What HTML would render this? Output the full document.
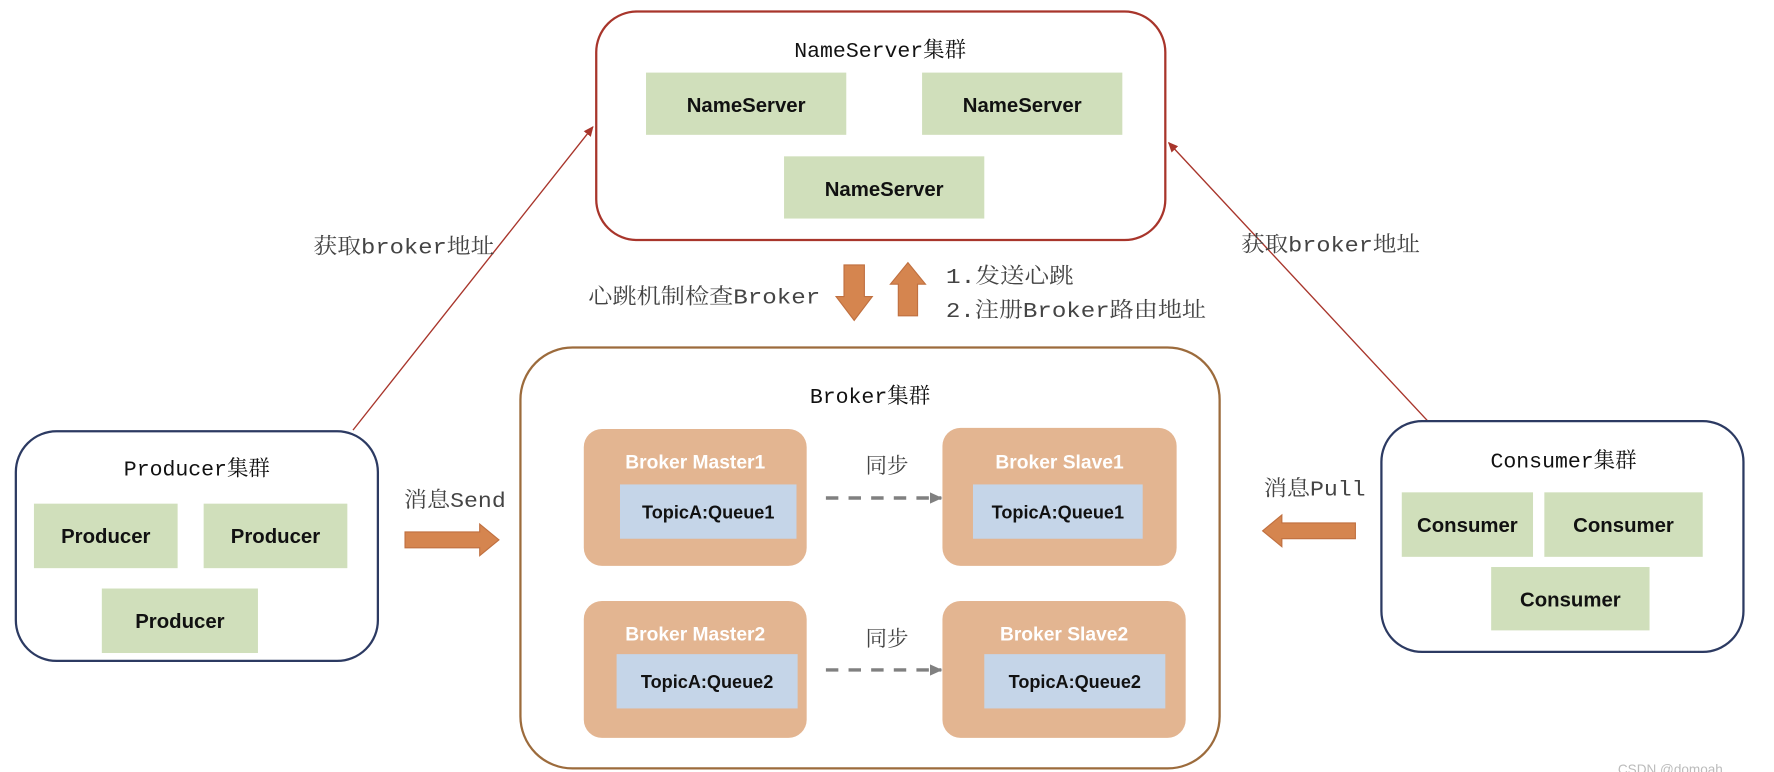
<!DOCTYPE html>
<html><head><meta charset="utf-8"><style>
html,body{margin:0;padding:0;background:#fff;width:1774px;height:772px;overflow:hidden}
svg{display:block}
.t{font-family:"Liberation Mono","Noto Serif CJK SC",monospace;fill:#111}
.l{font-family:"Liberation Mono","Noto Serif CJK SC",monospace;fill:#444}
.b{font-family:"Liberation Sans","Noto Sans CJK SC",sans-serif;font-weight:bold;fill:#111}
.w{font-family:"Liberation Sans","Noto Sans CJK SC",sans-serif;font-weight:bold;fill:#fff}
</style></head><body>
<svg width="1774" height="772" viewBox="0 0 1568 682" xmlns="http://www.w3.org/2000/svg">
<defs>
<marker id="ar" markerWidth="10" markerHeight="10" refX="8" refY="5" orient="auto" markerUnits="userSpaceOnUse"><path d="M0,1 L9,5 L0,9 z" fill="#a8352b"/></marker>
<marker id="ag" markerWidth="12" markerHeight="12" refX="10" refY="6" orient="auto" markerUnits="userSpaceOnUse"><path d="M0,1 L11,6 L0,11 z" fill="#808080"/></marker>
</defs>
<!-- NameServer cluster -->
<rect x="527" y="10" width="503" height="202" rx="36" fill="#fff" stroke="#a8352b" stroke-width="2"/>
<text class="t" x="778" y="50" font-size="19" text-anchor="middle">NameServer集群</text>
<rect x="571" y="64" width="177" height="55" fill="#d0dfbb"/>
<text class="b" x="659.5" y="99" font-size="18" text-anchor="middle">NameServer</text>
<rect x="815" y="64" width="177" height="55" fill="#d0dfbb"/>
<text class="b" x="903.5" y="99" font-size="18" text-anchor="middle">NameServer</text>
<rect x="693" y="138" width="177" height="55" fill="#d0dfbb"/>
<text class="b" x="781.5" y="173" font-size="18" text-anchor="middle">NameServer</text>
<!-- red connectors -->
<line x1="312" y1="380" x2="524" y2="112" stroke="#a8352b" stroke-width="1.2" marker-end="url(#ar)"/>
<line x1="1262" y1="372" x2="1033" y2="126" stroke="#a8352b" stroke-width="1.2" marker-end="url(#ar)"/>
<text class="l" x="277" y="224" font-size="19" textLength="160" lengthAdjust="spacingAndGlyphs">获取broker地址</text>
<text class="l" x="1097" y="222" font-size="19" textLength="158" lengthAdjust="spacingAndGlyphs">获取broker地址</text>
<!-- heartbeat arrows -->
<path d="M746,234 H764 V262 H771 L755,283 L739,262 H746 Z" fill="#d5854f" stroke="#c07040" stroke-width="1"/>
<path d="M794,279 H811 V251 H818 L802.5,232 L787,251 H794 Z" fill="#d5854f" stroke="#c07040" stroke-width="1"/>
<text class="l" x="520" y="268" font-size="19" textLength="205" lengthAdjust="spacingAndGlyphs">心跳机制检查Broker</text>
<text class="l" x="836" y="250" font-size="19" textLength="113" lengthAdjust="spacingAndGlyphs">1.发送心跳</text>
<text class="l" x="836" y="280" font-size="19" textLength="230" lengthAdjust="spacingAndGlyphs">2.注册Broker路由地址</text>
<!-- Broker cluster -->
<rect x="460" y="307" width="618" height="372" rx="46" fill="#fff" stroke="#9c6b3c" stroke-width="2"/>
<text class="t" x="769" y="356" font-size="19" text-anchor="middle">Broker集群</text>
<rect x="516" y="379" width="197" height="121" rx="16" fill="#e3b591"/>
<text class="w" x="614.5" y="414" font-size="17" text-anchor="middle">Broker Master1</text>
<rect x="548" y="428" width="156" height="48" fill="#c5d5e8"/>
<text class="b" x="626" y="458" font-size="16" text-anchor="middle">TopicA:Queue1</text>
<rect x="833" y="378" width="207" height="122" rx="16" fill="#e3b591"/>
<text class="w" x="936.5" y="414" font-size="17" text-anchor="middle">Broker Slave1</text>
<rect x="860" y="428" width="150" height="48" fill="#c5d5e8"/>
<text class="b" x="935" y="458" font-size="16" text-anchor="middle">TopicA:Queue1</text>
<rect x="516" y="531" width="197" height="121" rx="16" fill="#e3b591"/>
<text class="w" x="614.5" y="566" font-size="17" text-anchor="middle">Broker Master2</text>
<rect x="545" y="578" width="160" height="48" fill="#c5d5e8"/>
<text class="b" x="625" y="608" font-size="16" text-anchor="middle">TopicA:Queue2</text>
<rect x="833" y="531" width="215" height="121" rx="16" fill="#e3b591"/>
<text class="w" x="940.5" y="566" font-size="17" text-anchor="middle">Broker Slave2</text>
<rect x="870" y="578" width="160" height="48" fill="#c5d5e8"/>
<text class="b" x="950" y="608" font-size="16" text-anchor="middle">TopicA:Queue2</text>
<line x1="730" y1="440" x2="832" y2="440" stroke="#808080" stroke-width="3" stroke-dasharray="11,9" marker-end="url(#ag)"/>
<line x1="730" y1="592" x2="832" y2="592" stroke="#808080" stroke-width="3" stroke-dasharray="11,9" marker-end="url(#ag)"/>
<text class="l" x="765" y="418" font-size="19">同步</text>
<text class="l" x="765" y="571" font-size="19">同步</text>
<!-- Producer cluster -->
<rect x="14" y="381" width="320" height="203" rx="36" fill="#fff" stroke="#2c3a62" stroke-width="2"/>
<text class="t" x="174" y="420" font-size="19" text-anchor="middle">Producer集群</text>
<rect x="30" y="445" width="127" height="57" fill="#d0dfbb"/>
<text class="b" x="93.5" y="480" font-size="18" text-anchor="middle">Producer</text>
<rect x="180" y="445" width="127" height="57" fill="#d0dfbb"/>
<text class="b" x="243.5" y="480" font-size="18" text-anchor="middle">Producer</text>
<rect x="90" y="520" width="138" height="57" fill="#d0dfbb"/>
<text class="b" x="159" y="555" font-size="18" text-anchor="middle">Producer</text>
<text class="l" x="357" y="448" font-size="19" textLength="90" lengthAdjust="spacingAndGlyphs">消息Send</text>
<path d="M358,470 H424 V463 L441,477 L424,491 V484 H358 Z" fill="#d5854f" stroke="#c07040" stroke-width="1"/>
<!-- Consumer cluster -->
<rect x="1221" y="372" width="320" height="204" rx="36" fill="#fff" stroke="#2c3a62" stroke-width="2"/>
<text class="t" x="1382" y="413" font-size="19" text-anchor="middle">Consumer集群</text>
<rect x="1239" y="435" width="116" height="57" fill="#d0dfbb"/>
<text class="b" x="1297" y="470" font-size="18" text-anchor="middle">Consumer</text>
<rect x="1365" y="435" width="140" height="57" fill="#d0dfbb"/>
<text class="b" x="1435" y="470" font-size="18" text-anchor="middle">Consumer</text>
<rect x="1318" y="501" width="140" height="56" fill="#d0dfbb"/>
<text class="b" x="1388" y="536" font-size="18" text-anchor="middle">Consumer</text>
<text class="l" x="1117" y="438" font-size="19" textLength="90" lengthAdjust="spacingAndGlyphs">消息Pull</text>
<path d="M1198,462 H1133 V455 L1116,469 L1133,483 V476 H1198 Z" fill="#d5854f" stroke="#c07040" stroke-width="1"/>
<text x="1430" y="684" font-family="Liberation Sans,sans-serif" font-size="12" fill="#bbb">CSDN @domoah</text>
</svg>
</body></html>
